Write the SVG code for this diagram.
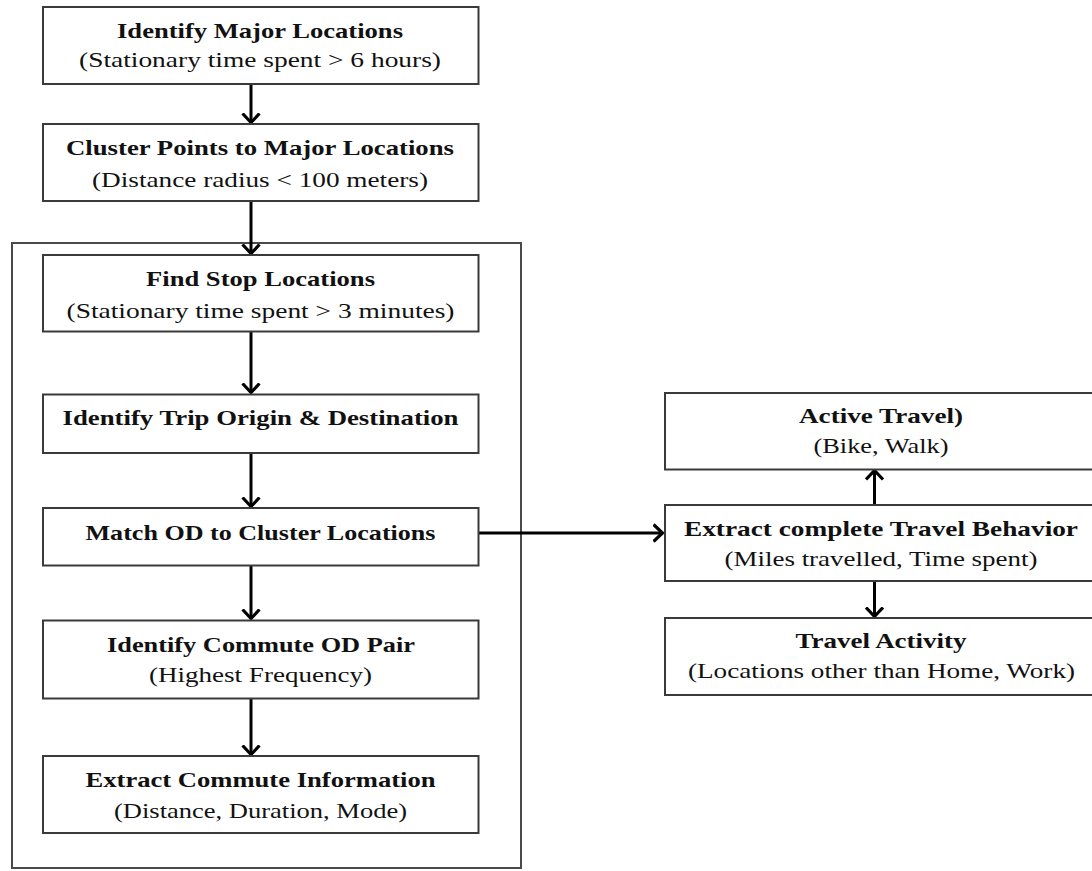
<svg xmlns="http://www.w3.org/2000/svg" width="1092" height="871" viewBox="0 0 1092 871">
<style>
.box{fill:#fff;stroke:#3a3a3a;stroke-width:2}
.frame{fill:none;stroke:#4a4a4a;stroke-width:2}
.t{font-family:"Liberation Serif","DejaVu Serif",serif;font-weight:bold;font-size:22px;fill:#111;text-anchor:middle}
.s{font-family:"Liberation Serif","DejaVu Serif",serif;font-size:22px;fill:#111;text-anchor:middle}
.c{fill:none;stroke:#000;stroke-width:3}
</style>
<defs>
<marker id="ah" viewBox="0 0 12 20" refX="10.5" refY="10" markerWidth="12" markerHeight="20" markerUnits="userSpaceOnUse" orient="auto">
<path d="M1,1.5 L10,10 L1,18.5" fill="none" stroke="#000" stroke-width="3.2"/>
</marker>
</defs>
<rect width="1092" height="871" fill="#fff"/>
<rect id="frame" class="frame" x="12" y="243" width="509" height="625"/>
<g id="connectors">
<line class="c" x1="251" y1="85" x2="251" y2="123" marker-end="url(#ah)"/>
<line class="c" x1="251" y1="202" x2="251" y2="254" marker-end="url(#ah)"/>
<line class="c" x1="251" y1="332" x2="251" y2="393" marker-end="url(#ah)"/>
<line class="c" x1="251" y1="454" x2="251" y2="507" marker-end="url(#ah)"/>
<line class="c" x1="251" y1="566" x2="251" y2="619" marker-end="url(#ah)"/>
<line class="c" x1="251" y1="699" x2="251" y2="755" marker-end="url(#ah)"/>
<line class="c" x1="479" y1="533" x2="663" y2="533" marker-end="url(#ah)"/>
<line class="c" x1="874.5" y1="504" x2="874.5" y2="470" marker-end="url(#ah)"/>
<line class="c" x1="874.5" y1="582" x2="874.5" y2="617" marker-end="url(#ah)"/>
</g>
<g id="n1">
<rect class="box" x="43" y="7" width="435.5" height="77"/>
<text class="t" x="260" y="38" textLength="286" lengthAdjust="spacingAndGlyphs">Identify Major Locations</text>
<text class="s" x="260" y="67" textLength="362" lengthAdjust="spacingAndGlyphs">(Stationary time spent &gt; 6 hours)</text>
</g>
<g id="n2">
<rect class="box" x="43" y="124" width="435.5" height="77"/>
<text class="t" x="260" y="155" textLength="388" lengthAdjust="spacingAndGlyphs">Cluster Points to Major Locations</text>
<text class="s" x="260" y="186.5" textLength="336" lengthAdjust="spacingAndGlyphs">(Distance radius &lt; 100 meters)</text>
</g>
<g id="n3">
<rect class="box" x="43" y="255" width="435.5" height="76.5"/>
<text class="t" x="260.5" y="286" textLength="229" lengthAdjust="spacingAndGlyphs">Find Stop Locations</text>
<text class="s" x="260.5" y="318" textLength="388" lengthAdjust="spacingAndGlyphs">(Stationary time spent &gt; 3 minutes)</text>
</g>
<g id="n4">
<rect class="box" x="43" y="394.5" width="435.5" height="58.5"/>
<text class="t" x="260.5" y="425" textLength="396" lengthAdjust="spacingAndGlyphs">Identify Trip Origin &amp; Destination</text>
</g>
<g id="n5">
<rect class="box" x="43" y="508" width="435.5" height="57.5"/>
<text class="t" x="260.5" y="540" textLength="350" lengthAdjust="spacingAndGlyphs">Match OD to Cluster Locations</text>
</g>
<g id="n6">
<rect class="box" x="43" y="620.5" width="435.5" height="78"/>
<text class="t" x="261" y="651.5" textLength="308" lengthAdjust="spacingAndGlyphs">Identify Commute OD Pair</text>
<text class="s" x="260.5" y="682" textLength="223" lengthAdjust="spacingAndGlyphs">(Highest Frequency)</text>
</g>
<g id="n7">
<rect class="box" x="43" y="756" width="435.5" height="77"/>
<text class="t" x="260.5" y="787" textLength="350" lengthAdjust="spacingAndGlyphs">Extract Commute Information</text>
<text class="s" x="260.5" y="818" textLength="293" lengthAdjust="spacingAndGlyphs">(Distance, Duration, Mode)</text>
</g>
<g id="n8">
<rect class="box" x="665" y="393" width="432" height="76.5"/>
<text class="t" x="881" y="423" textLength="164" lengthAdjust="spacingAndGlyphs">Active Travel)</text>
<text class="s" x="881" y="452.5" textLength="135" lengthAdjust="spacingAndGlyphs">(Bike, Walk)</text>
</g>
<g id="n9">
<rect class="box" x="665" y="505" width="432" height="76"/>
<text class="t" x="881" y="535.5" textLength="394" lengthAdjust="spacingAndGlyphs">Extract complete Travel Behavior</text>
<text class="s" x="881" y="565.5" textLength="313" lengthAdjust="spacingAndGlyphs">(Miles travelled, Time spent)</text>
</g>
<g id="n10">
<rect class="box" x="665" y="618" width="432" height="77"/>
<text class="t" x="881" y="648" textLength="171" lengthAdjust="spacingAndGlyphs">Travel Activity</text>
<text class="s" x="881.5" y="678" textLength="387" lengthAdjust="spacingAndGlyphs">(Locations other than Home, Work)</text>
</g>
</svg>
